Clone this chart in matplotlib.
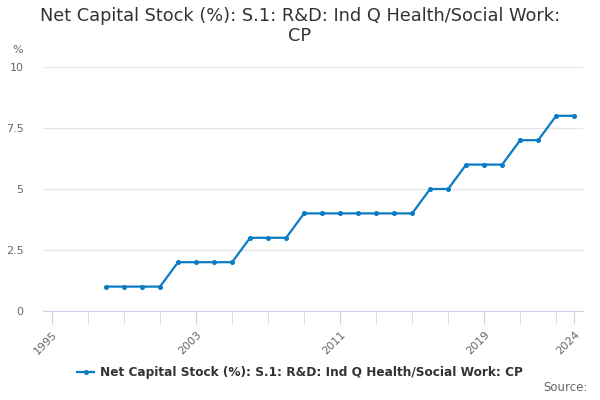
import numpy as np
import matplotlib.pyplot as plt

years = [1998, 1999, 2000, 2001, 2002, 2003, 2004, 2005, 2006, 2007, 2008,
         2009, 2010, 2011, 2012, 2013, 2014, 2015, 2016, 2017, 2018, 2019,
         2020, 2021, 2022, 2023, 2024]
values = [1, 1, 1, 1, 2, 2, 2, 2, 3, 3, 3,
          4, 4, 4, 4, 4, 4, 4, 5, 5, 6, 6,
          6, 7, 7, 8, 8]
label_years = [1995, 2003, 2011, 2019, 2024]
yticks = [0, 2.5, 5, 7.5, 10]
ytick_labels = ["0", "2.5", "5", "7.5", "10"]
series_name = "Net Capital Stock (%): S.1: R&D: Ind Q Health/Social Work: CP"

def main():
    fig = plt.figure(figsize=(6, 4), dpi=100)
    ax = fig.add_axes([0.0717, 0.2225, 0.9003, 0.61])

    ax.plot(years, values, color="#0a7bc4", lw=1.6, marker="o", ms=2.6,
            label=series_name)

    ax.set_xlim(1994.5, 2024.5)
    ax.set_ylim(0, 10)
    ax.set_yticks(yticks)
    ax.set_yticklabels(ytick_labels)
    ax.yaxis.grid(True, color="#e6e6e6", lw=1)
    ax.set_axisbelow(True)

    minor = list(range(1995, 2024, 2)) + [2024]
    ax.set_xticks(minor, minor=True)
    ax.set_xticks(label_years)
    ax.set_xticklabels([str(y) for y in label_years], rotation=45,
                       ha="right", rotation_mode="anchor")
    ax.tick_params(axis="x", which="both", length=9, color="#ccd6eb",
                   labelsize=8, labelcolor="#666666", pad=4)
    ax.tick_params(axis="y", length=0, labelsize=8, labelcolor="#666666",
                   pad=14)

    for s in ["top", "right", "left"]:
        ax.spines[s].set_visible(False)
    ax.spines["bottom"].set_color("#ccd6eb")

    fig.text(0.5, 0.935, "Net Capital Stock (%): S.1: R&D: Ind Q Health/Social Work:\nCP",
             ha="center", va="center", fontsize=12.8, color="#333333",
             linespacing=1.2)
    fig.text(0.03, 0.868, "%", fontsize=8, color="#666666", ha="center")
    fig.text(0.98, 0.022, "Source:", fontsize=8.5, color="#666666", ha="right")

    leg = fig.legend(loc="center", bbox_to_anchor=(0.5, 0.068), frameon=False,
                     handlelength=1.4, handletextpad=0.5,
                     prop={"weight": "bold", "size": 8.7})
    for t in leg.get_texts():
        t.set_color("#333333")

    fig.savefig("out.png", dpi=100)

if __name__ == "__main__":
    main()
